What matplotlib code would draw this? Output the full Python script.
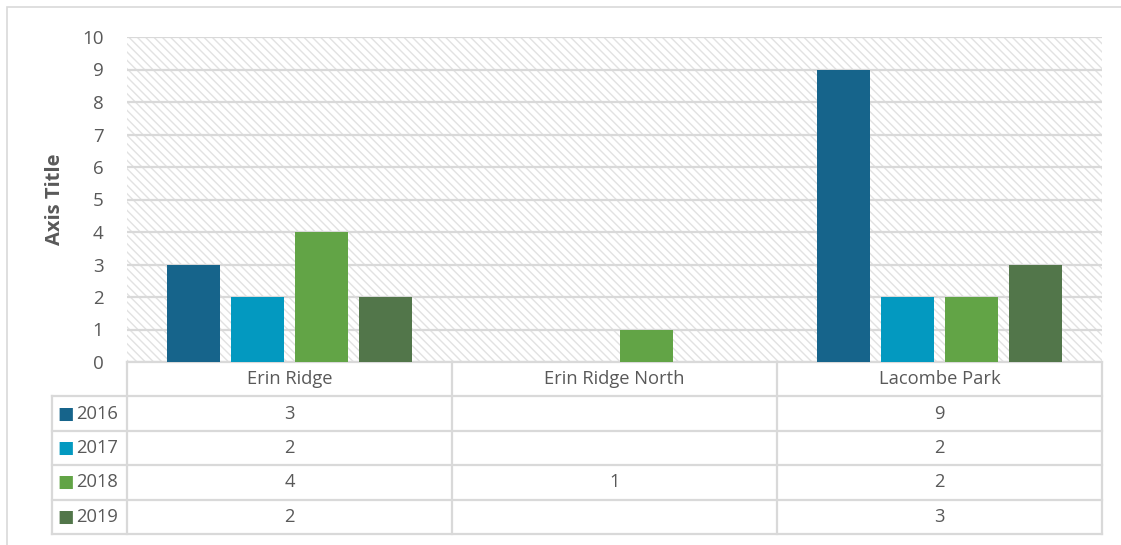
import matplotlib
matplotlib.use("Agg")
from matplotlib import pyplot as plt
from matplotlib import transforms as mtransforms
from matplotlib.patches import Rectangle
import numpy as np

categories = ["Erin Ridge", "Erin Ridge North", "Lacombe Park"]
years = ["2016", "2017", "2018", "2019"]
values_2016 = [3, None, 9]
values_2017 = [2, None, 2]
values_2018 = [4, 1, 2]
values_2019 = [2, None, 3]
series = [values_2016, values_2017, values_2018, values_2019]
colors = ["#16648B", "#0399C0", "#62A446", "#52764A"]

text_color = "#595959"
line_color = "#D9D9D9"
hatch_color = "#E2E2E2"
plt.rcParams['font.family'] = ['Open Sans', 'DejaVu Sans']
plt.rcParams['hatch.linewidth'] = 1.0

fig = plt.figure(figsize=(11.21, 5.45), dpi=100)
W, H = 1121., 545.
ax = fig.add_axes([127/W, 1 - 362/H, 975/W, 325/H])

# outer chart border
fig.add_artist(Rectangle((7/W, -0.1), 1.2, 1 - 7/H + 0.1, transform=fig.transFigure,
                         fill=False, edgecolor=line_color, lw=1.2))

# hatched plot area
ax.add_patch(Rectangle((0, 0), 1, 1, transform=ax.transAxes, facecolor="white",
                       hatch="\\\\\\\\", edgecolor=hatch_color, lw=0, zorder=0))

ax.set_xlim(-0.5, len(categories) - 0.5)
ax.set_ylim(0, 10)
ax.set_yticks(np.arange(0, 11, 1))
ax.yaxis.grid(True, color=line_color, lw=1.6, zorder=1)
ax.set_axisbelow(True)
ax.tick_params(axis='y', length=0, pad=17, labelsize=13.5, labelcolor=text_color)
ax.set_xticks([])
for s in ax.spines.values():
    s.set_visible(False)
ax.set_ylabel("Axis Title", fontsize=14.5, fontweight='bold', color=text_color, labelpad=12)

bar_w = 0.163
step = 0.197
x = np.arange(len(categories))
for i, (vals, c) in enumerate(zip(series, colors)):
    off = (i - 1.5) * step
    for j, v in enumerate(vals):
        if v is not None:
            ax.bar(x[j] + off, v, width=bar_w, color=c, zorder=3)

# data table below the plot
trans = mtransforms.blended_transform_factory(ax.transData, ax.transAxes)
row_h = 34.4 / 325
n_rows = len(years) + 1
left_x = -0.5 - 75 / 975 * len(categories)
right_x = len(categories) - 0.5
lw = 1.6

def hline(y, x0, x1):
    ax.plot([x0, x1], [y, y], transform=trans, color=line_color, lw=lw,
            clip_on=False, solid_capstyle='projecting')

def vline(xv, y0, y1):
    ax.plot([xv, xv], [y0, y1], transform=trans, color=line_color, lw=lw,
            clip_on=False, solid_capstyle='projecting')

bottom = -row_h * n_rows
hline(0, -0.5, right_x)
for r in range(1, n_rows + 1):
    hline(-row_h * r, left_x, right_x)
for k in range(len(categories) + 1):
    vline(k - 0.5, bottom, 0)
vline(left_x, bottom, -row_h)

for j, cat in enumerate(categories):
    ax.text(j, -row_h * 0.5, cat, transform=trans, ha='center', va='center',
            fontsize=13.2, color=text_color)

for r, (yr, vals, c) in enumerate(zip(years, series, colors)):
    yc = -row_h * (r + 1.5)
    ax.text(left_x + 0.018, yc, "\u25A0", transform=trans, ha='left', va='center',
            fontsize=12.5, color=c, family='DejaVu Sans')
    ax.text(left_x + 0.074, yc, yr, transform=trans, ha='left', va='center',
            fontsize=13.2, color=text_color)
    for j, v in enumerate(vals):
        if v is not None:
            ax.text(j, yc, str(v), transform=trans, ha='center', va='center',
                    fontsize=13.2, color=text_color)

fig.savefig("out.png", dpi=100)
